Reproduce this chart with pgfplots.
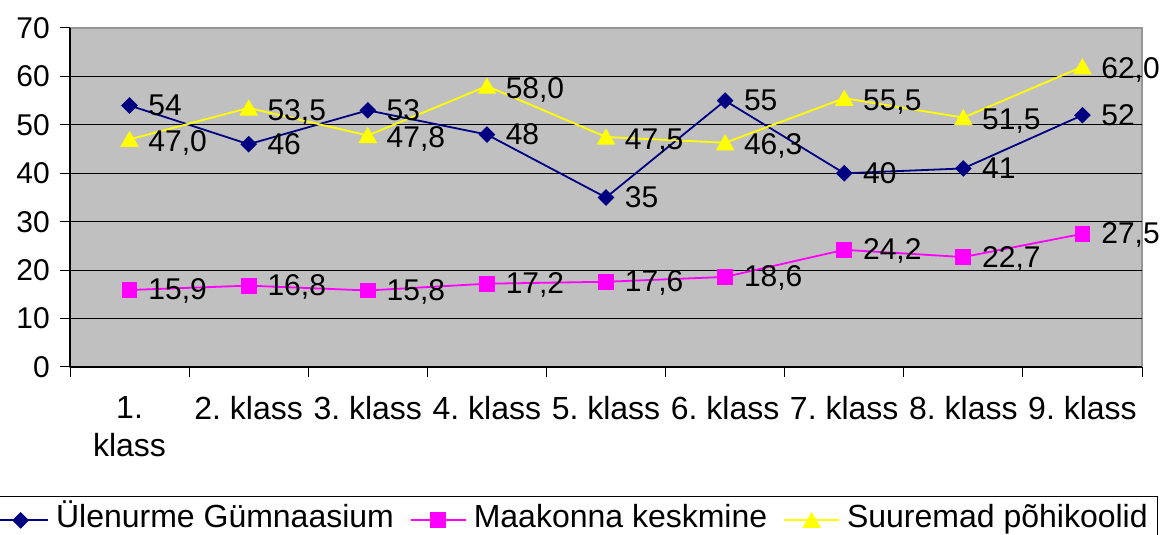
\documentclass[border=0pt]{standalone}
\usepackage{fontspec}
\setmainfont{Liberation Sans}
\usepackage{pgfplots}
\pgfplotsset{compat=1.18}
\usepackage{pgfplotstable}
\definecolor{navyc}{RGB}{0,0,128}
\definecolor{mag}{RGB}{255,0,255}
\definecolor{yel}{RGB}{255,255,0}
\definecolor{plotbg}{RGB}{192,192,192}
\definecolor{frame}{RGB}{150,150,150}

\pgfplotstableread{
x y label
1 54 54
2 46 46
3 53 53
4 48 48
5 35 35
6 55 55
7 40 40
8 41 41
9 52 52
}\tblA
\pgfplotstableread{
x y label
1 15.9 15,9
2 16.8 16,8
3 15.8 15,8
4 17.2 17,2
5 17.6 17,6
6 18.6 18,6
7 24.2 24,2
8 22.7 22,7
9 27.5 27,5
}\tblB
\pgfplotstableread{
x y label
1 47.0 47,0
2 53.5 53,5
3 47.8 47,8
4 58.0 58,0
5 47.5 47,5
6 46.3 46,3
7 55.5 55,5
8 51.5 51,5
9 62.0 62,0
}\tblC

\begin{document}
\frenchspacing
\begin{tikzpicture}[font=\fontsize{30}{37}\selectfont\frenchspacing]
\useasboundingbox (0,0) rectangle (1161pt,535pt);
\begin{axis}[
  at={(70pt,168pt)}, anchor=south west,
  scale only axis, width=1072pt, height=339pt,
  xmin=0.5, xmax=9.5, ymin=0, ymax=70,
  axis x line*=bottom, axis y line*=left,
  axis line style={black, line width=1.5pt},
  axis background/.style={fill=plotbg, draw=frame, line width=1.5pt},
  /pgf/number format/assume math mode=true,
  tick align=outside,
  ytick={0,10,...,70},
  major tick length=10pt,
  minor tick length=10pt,
  major y tick style={black, line width=1pt},
  extra y ticks={10,20,...,60},
  extra y tick labels={},
  extra y tick style={grid=major, major grid style={black, line width=1pt}},
  xtick={1,...,9},
  xticklabels={{1.\\klass},2. klass,3. klass,4. klass,5. klass,6. klass,7. klass,8. klass,9. klass},
  major x tick style={draw=none},
  minor xtick={0.5,1.5,...,9.5},
  minor x tick style={black, line width=1pt},
  xticklabel style={align=center, anchor=north, inner sep=0pt, yshift=-19pt, font=\fontsize{32}{38}\selectfont\frenchspacing},
  yticklabel style={anchor=east, inner sep=0pt, xshift=-10pt},
  every node near coord/.append style={anchor=base west, xshift=18pt, yshift=-10pt, inner sep=0pt, text=black},
  legend image code/.code={\draw[mark repeat=2,mark phase=2,#1] plot coordinates {(0pt,0pt) (27.5pt,0pt) (55pt,0pt)};},
  legend style={at={(0.4664,-0.3805)}, anchor=north, legend columns=3, draw=black, line width=0.8pt, fill=white,
    inner xsep=10pt, inner ysep=1.5pt, legend cell align=left,
    font=\fontsize{32}{38}\selectfont,
    nodes={inner xsep=0pt, inner ysep=0.5pt, text height=29pt, text depth=15pt},
    /tikz/every odd column/.append style={column sep=7pt},
    /tikz/every even column/.append style={column sep=16pt}},
]
\addplot[navyc, line width=1.8pt, mark=square*, mark size=5pt, mark options={rotate=45},
  nodes near coords, point meta=explicit symbolic] table[x=x,y=y,meta=label]{\tblA};
\addlegendentry{Ülenurme Gümnaasium}
\addplot[mag, line width=1.8pt, mark=square*, mark size=7pt,
  nodes near coords, point meta=explicit symbolic] table[x=x,y=y,meta=label]{\tblB};
\addlegendentry{Maakonna keskmine}
\addplot[yel, line width=1.8pt, mark=triangle*, mark size=9pt, mark options={yshift=-2.2pt},
  nodes near coords, point meta=explicit symbolic] table[x=x,y=y,meta=label]{\tblC};
\addlegendentry{Suuremad põhikoolid}
\end{axis}
\end{tikzpicture}
\end{document}
